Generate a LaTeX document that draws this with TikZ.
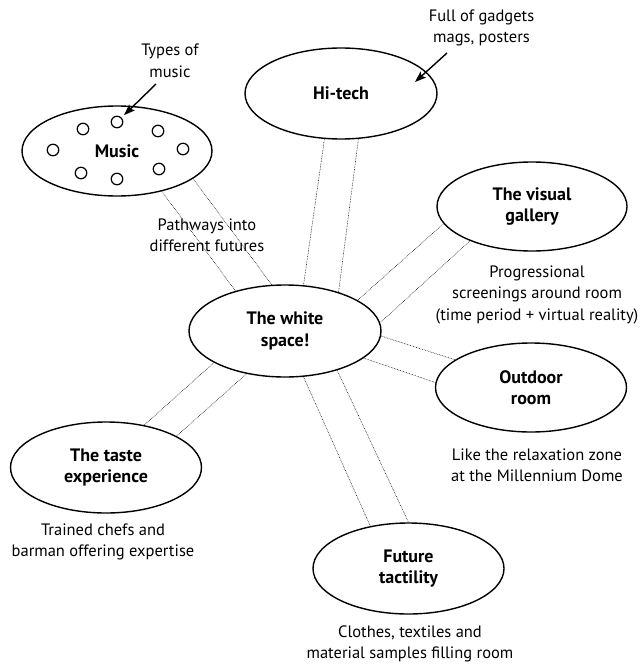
\documentclass[tikz,border=0pt]{standalone}
\usepackage{fontspec}
\setmainfont{PT Sans}
\usetikzlibrary{arrows.meta,shapes.geometric}
\begin{document}
\begin{tikzpicture}[x=1pt,y=-1pt,
  zone/.style={ellipse,draw,line width=1.4pt,inner sep=0pt,align=center,font=\fontsize{18}{21.5}\selectfont\bfseries},
  note/.style={align=center,font=\fontsize{16.5}{21.5}\selectfont,inner sep=0pt},
  lane/.style={line width=0.5pt,dash pattern=on 0.7pt off 0.9pt},
  arr/.style={line width=1.4pt,-{Stealth[length=11pt,width=8pt,inset=2pt]}},
  dot/.style={circle,draw,line width=1.2pt,minimum size=11.5pt,inner sep=0pt}]
\useasboundingbox (0,0) rectangle (640,666);
% zones
\node[zone,minimum width=190pt,minimum height=90pt] (music) at (117,151) {Music};
\node[zone,minimum width=192pt,minimum height=91pt] (hitech) at (341,93.5) {Hi-tech};
\node[zone,minimum width=192pt,minimum height=92pt] (white) at (285,331) {The white\\space!};
\node[zone,minimum width=190pt,minimum height=89pt] (visual) at (532,206.5) {The visual\\gallery};
\node[zone,minimum width=191pt,minimum height=89pt] (outdoor) at (531,387.5) {Outdoor\\room};
\node[zone,minimum width=191pt,minimum height=91pt] (future) at (408.5,568.5) {Future\\tactility};
\node[zone,minimum width=191pt,minimum height=91pt] (taste) at (106,467.5) {The taste\\experience};
% music dots
\node[dot] (d1) at (53,150) {};
\node[dot] (d2) at (83,129) {};
\node[dot] (d3) at (117,122) {};
\node[dot] (d4) at (158,131) {};
\node[dot] (d5) at (183,149) {};
\node[dot] (d6) at (159,169) {};
\node[dot] (d7) at (117,179) {};
\node[dot] (d8) at (81,173) {};
% notes
\node[note] (ntypes) at (170,61) {Types of\\music};
\node[note] (ngadget) at (481.5,28) {Full of gadgets\\mags, posters};
\node[note] (npath) at (207,235.5) {Pathways into\\different futures};
\node[note] (nvisual) at (537,294.5) {Progressional\\screenings around room\\(time period + virtual reality)};
\node[note] (noutdoor) at (537,465.5) {Like the relaxation zone\\at the Millennium Dome};
\node[note] (ntaste) at (103,542) {Trained chefs and\\barman offering expertise};
\node[note] (nfuture) at (410,644) {Clothes, textiles and\\material samples filling room};
% arrows
\coordinate (mtail) at (156,84);
\coordinate (htail) at (447,53);
\coordinate (htip) at (415,82);
\draw[arr,shorten >=3.5pt] (mtail) -- (d3);
\draw[arr] (htail) -- (htip);
% pathways
\draw[lane] (music.-42.4) -- (white.141.7);
\draw[lane] (music.-20.4) -- (white.106.9);
\draw[lane] (hitech.-110.5) -- (white.68.2);
\draw[lane] (hitech.-69.5) -- (white.36.9);
\draw[lane] (visual.191.6) -- (white.23.7);
\draw[lane] (visual.209.3) -- (white.5.4);
\draw[lane] (white.-3) -- (outdoor.160.4);
\draw[lane] (white.-19.7) -- (outdoor.177.6);
\draw[lane] (white.-68.6) -- (future.132.2);
\draw[lane] (white.-37.7) -- (future.90.6);
\draw[lane] (white.204) -- (taste.48.4);
\draw[lane] (white.228.5) -- (taste.24);
\end{tikzpicture}
\end{document}
